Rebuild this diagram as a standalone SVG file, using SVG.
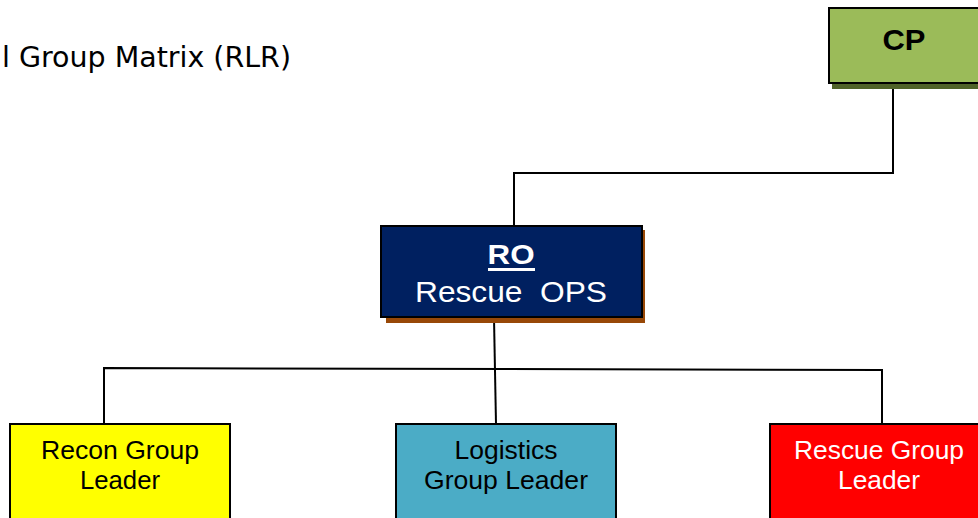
<svg xmlns="http://www.w3.org/2000/svg" width="978" height="518" viewBox="0 0 978 518">
<style>
.box{stroke:#000;stroke-width:2}
.conn{fill:none;stroke:#000;stroke-width:2}
.t{font-family:"Liberation Sans",Arial,sans-serif;text-anchor:middle}
.g{font-size:25.5px}
</style>
<rect width="978" height="518" fill="#fff"/>
<text x="2" y="67" font-family="DejaVu Sans,Verdana,sans-serif" font-size="29" textLength="289" lengthAdjust="spacingAndGlyphs" fill="#000">l Group Matrix (RLR)</text>
<g id="connectors">
<polyline class="conn" points="893,84 893,173 514,173 514,226"/>
<polyline class="conn" points="494,318 496,424"/>
<polyline class="conn" points="104,424 104,368 882,370 882,424"/>
</g>
<g id="cp">
<rect x="832" y="84" width="150" height="5" fill="#4F6228"/>
<rect class="box" x="829" y="8" width="160" height="75" fill="#9BBB59"/>
<text class="t" x="904" y="50" font-size="30" font-weight="bold" textLength="43" lengthAdjust="spacingAndGlyphs">CP</text>
</g>
<g id="ro">
<rect x="386" y="230" width="259" height="93" fill="#984807"/>
<rect class="box" x="381" y="226" width="261" height="91" fill="#002060"/>
<text class="t" x="511" y="264" font-size="28" font-weight="bold" fill="#fff" textLength="47" lengthAdjust="spacingAndGlyphs">RO</text>
<rect x="488" y="268" width="47" height="3" fill="#fff"/>
<text class="t" x="511" y="302" font-size="30" fill="#fff" xml:space="preserve" textLength="192" lengthAdjust="spacingAndGlyphs">Rescue  OPS</text>
</g>
<g id="recon">
<rect class="box" x="10" y="424" width="220" height="110" fill="#FFFF00"/>
<text class="t g" x="120" y="459" textLength="158" lengthAdjust="spacingAndGlyphs">Recon Group</text>
<text class="t g" x="120" y="489" textLength="80" lengthAdjust="spacingAndGlyphs">Leader</text>
</g>
<g id="logistics">
<rect class="box" x="396" y="424" width="220" height="110" fill="#4BACC6"/>
<text class="t g" x="506" y="459" textLength="103" lengthAdjust="spacingAndGlyphs">Logistics</text>
<text class="t g" x="506" y="489" textLength="164" lengthAdjust="spacingAndGlyphs">Group Leader</text>
</g>
<g id="rescue">
<rect class="box" x="770" y="424" width="220" height="110" fill="#FF0000"/>
<text class="t g" x="879" y="459" fill="#fff" textLength="170" lengthAdjust="spacingAndGlyphs">Rescue Group</text>
<text class="t g" x="879" y="489" fill="#fff" textLength="82" lengthAdjust="spacingAndGlyphs">Leader</text>
</g>
</svg>
